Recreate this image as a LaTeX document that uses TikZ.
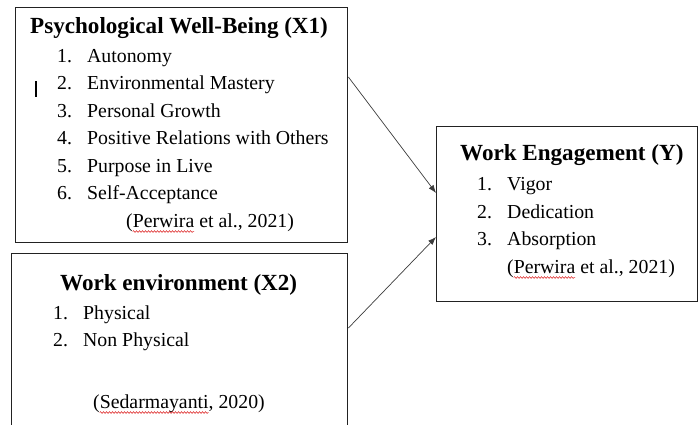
\documentclass[tikz,border=0pt]{standalone}
\usepackage{fontspec}
\setmainfont{Liberation Serif}
\usetikzlibrary{arrows.meta, positioning, decorations.pathmorphing}
\definecolor{boxline}{RGB}{34,34,34}
\definecolor{arrowgray}{RGB}{60,60,60}
\definecolor{spellred}{RGB}{220,30,30}

\begin{document}
\begin{tikzpicture}[
        x=1pt, y=-1pt,
        varbox/.style={rectangle, draw=boxline, line width=1.4pt, anchor=north west, inner sep=0pt},
        head/.style={anchor=base west, inner sep=0pt, font=\fontsize{23.1}{26}\selectfont\bfseries},
        item/.style={anchor=base west, inner sep=0pt, font=\fontsize{19.8}{24}\selectfont},
        link/.style={-{Latex[length=8pt, width=6pt]}, line width=0.7pt, arrowgray},
        spell/.style={spellred, line width=0.5pt, decorate, decoration={snake, amplitude=0.9pt, segment length=3pt}}
    ]
        \useasboundingbox (0,0) rectangle (700,424);
        \clip (0,0) rectangle (700,424);

        % boxes
        \node[varbox, minimum width=332pt, minimum height=235pt] (pwb) at (15,7) {};
        \node[varbox, minimum width=336pt, minimum height=200pt] (env) at (11,253) {};
        \node[varbox, minimum width=261pt, minimum height=175pt] (eng) at (436,126) {};

        % Psychological Well-Being
        \node[head] (pwbhead) at (30,33) {Psychological Well-Being (X1)};
        \node[item] (pwbn1) at (57,62) {1.};
        \node[item] (pwbi1) at (87,62) {Autonomy};
        \node[item] (pwbn2) at (57,89.5) {2.};
        \node[item] (pwbi2) at (87,89.5) {Environmental Mastery};
        \node[item] (pwbn3) at (57,117) {3.};
        \node[item] (pwbi3) at (87,117) {Personal Growth};
        \node[item] (pwbn4) at (57,144.5) {4.};
        \node[item] (pwbi4) at (87,144.5) {Positive Relations with Others};
        \node[item] (pwbn5) at (57,172) {5.};
        \node[item] (pwbi5) at (87,172) {Purpose in Live};
        \node[item] (pwbn6) at (57,199.5) {6.};
        \node[item] (pwbi6) at (87,199.5) {Self-Acceptance};
        \node[item] (pwbcite) at (126,227.5) {(Perwira et al., 2021)};
        \draw[spell] ([xshift=6.6pt, yshift=-4pt]pwbcite.base west) -- ++(61.6,0);
        \draw[line width=1.3pt] (36,81) -- (36,97);

        % Work environment
        \node[head] (envhead) at (60,290) {Work environment (X2)};
        \node[item] (envn1) at (53,319) {1.};
        \node[item] (envi1) at (83,319) {Physical};
        \node[item] (envn2) at (53,346.5) {2.};
        \node[item] (envi2) at (83,346.5) {Non Physical};
        \node[item] (envcite) at (93,408.5) {(Sedarmayanti, 2020)};
        \draw[spell] ([xshift=6.6pt, yshift=-4pt]envcite.base west) -- ++(108.9,0);

        % Work Engagement
        \node[head] (enghead) at (460,160.5) {Work Engagement (Y)};
        \node[item] (engn1) at (477,190.5) {1.};
        \node[item] (engi1) at (507,190.5) {Vigor};
        \node[item] (engn2) at (477,218) {2.};
        \node[item] (engi2) at (507,218) {Dedication};
        \node[item] (engn3) at (477,245.5) {3.};
        \node[item] (engi3) at (507,245.5) {Absorption};
        \node[item] (engcite) at (507,273.5) {(Perwira et al., 2021)};
        \draw[spell] ([xshift=6.6pt, yshift=-4pt]engcite.base west) -- ++(61.6,0);

        \draw[link] ([yshift=-70pt]pwb.north east) -- ([yshift=-67pt]eng.north west);
        \draw[link] ([yshift=-75pt]env.north east) -- ([yshift=-111pt]eng.north west);
    \end{tikzpicture}
\end{document}
